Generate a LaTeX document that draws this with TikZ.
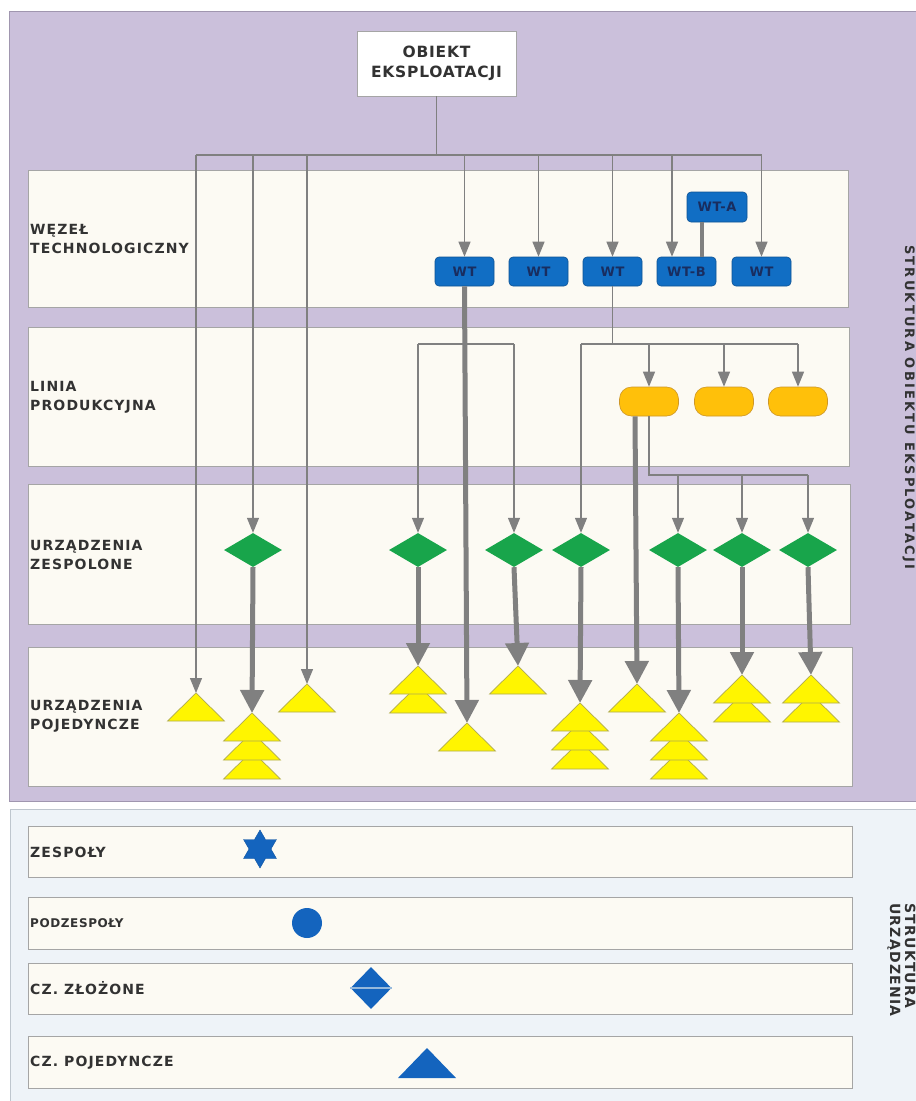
\documentclass[tikz,border=0pt]{standalone}
\usepackage{fontspec}
\setmainfont{DejaVu Sans}
\newfontfamily\lsfont[LetterSpace=8]{DejaVu Sans}
\newfontfamily\lsfontb[LetterSpace=5]{DejaVu Sans}
\newfontfamily\lsfontc[LetterSpace=9]{DejaVu Sans}
\newfontfamily\lsfontd[LetterSpace=17]{DejaVu Sans}
\usetikzlibrary{arrows.meta,shapes.geometric,calc}
\definecolor{purplebg}{RGB}{203,192,219}
\definecolor{purpleline}{RGB}{160,150,175}
\definecolor{cream}{RGB}{252,250,243}
\definecolor{bandline}{RGB}{165,165,165}
\definecolor{legendbg}{RGB}{238,243,248}
\definecolor{legendline}{RGB}{190,198,206}
\definecolor{arrgray}{RGB}{128,128,128}
\definecolor{wtblue}{RGB}{17,110,196}
\definecolor{navy}{RGB}{25,45,95}
\definecolor{dgreen}{RGB}{24,165,75}
\definecolor{orng}{RGB}{255,192,10}
\definecolor{orngline}{RGB}{205,150,40}
\definecolor{ylw}{RGB}{255,245,0}
\definecolor{ylwline}{RGB}{175,170,80}
\definecolor{lblue}{RGB}{20,100,190}
\definecolor{splitline}{RGB}{150,185,220}
\definecolor{labtxt}{RGB}{50,50,50}
\begin{document}
\begin{tikzpicture}[x=1pt,y=-1pt,
  band/.style={draw=bandline,fill=cream,line width=0.9pt},
  lab/.style={anchor=west,align=left,inner sep=0pt,text=labtxt,font=\lsfont\bfseries\fontsize{14}{19}\selectfont},
  thinline/.style={draw=arrgray,line width=1.2pt},
  thinarrow/.style={thinline,-{Triangle[width=12pt,length=15pt]}},
  thickline/.style={draw=arrgray,line width=4pt},
  thickarrow/.style={draw=arrgray,line width=5pt,-{Triangle[width=23pt,length=23pt]}},
  wtbox/.style={rectangle,rounded corners=4pt,fill=wtblue,draw=wtblue!75!black,line width=0.6pt,minimum width=59pt,minimum height=29pt,inner sep=0pt,text=navy,font=\lsfontb\bfseries\fontsize{13}{15}\selectfont},
  dia/.style={diamond,fill=dgreen,minimum width=58pt,minimum height=34pt,inner sep=0pt},
  oval/.style={rectangle,rounded corners=12pt,fill=orng,draw=orngline,line width=0.6pt,minimum width=59pt,minimum height=29pt,inner sep=0pt},
  tri/.style={fill=ylw,draw=ylwline,line width=0.7pt},
  pics/ytri/.style={code={\draw[tri] (0,0) -- (28.5,28) -- (-28.5,28) -- cycle;}},
  sidetxt/.style={rotate=-90,anchor=base west,inner sep=0pt,text=labtxt},
]
\useasboundingbox (0,0) rectangle (916,1101);
\fill[white] (0,0) rectangle (916,1101);
% backgrounds
\draw[purpleline,fill=purplebg,line width=0.9pt] (9,11) rectangle (930,801);
\draw[legendline,fill=legendbg,line width=0.9pt] (10,809) rectangle (930,1115);
% bands
\draw[band] (28,170) rectangle (848,307);
\draw[band] (28,327) rectangle (849,466);
\draw[band] (28,484) rectangle (850,624);
\draw[band] (28,647) rectangle (852,786);
\draw[band] (28,826) rectangle (852,877);
\draw[band] (28,897) rectangle (852,949);
\draw[band] (28,963) rectangle (852,1014);
\draw[band] (28,1036) rectangle (852,1088);
% band labels
\node[lab] (lwt) at (30,238.5) {WĘZEŁ\\TECHNOLOGICZNY};
\node[lab] (llp) at (30,397) {LINIA\\PRODUKCYJNA};
\node[lab] (luz) at (30,554.5) {URZĄDZENIA\\ZESPOLONE};
\node[lab] (lup) at (30,716.5) {URZĄDZENIA\\POJEDYNCZE};
\node[lab] (lzesp) at (30,852) {ZESPOŁY};
\node[lab,font=\lsfontb\bfseries\fontsize{12}{14}\selectfont] (lpodz) at (30,923) {PODZESPOŁY};
\node[lab] (lzloz) at (30,988) {CZ. ZŁOŻONE};
\node[lab] (lpoj) at (30,1063) {CZ. POJEDYNCZE};
% side texts
\node[sidetxt,font=\lsfontd\bfseries\fontsize{13}{15}\selectfont] (side1) at (905,245) {STRUKTURA OBIEKTU EKSPLOATACJI};
\node[sidetxt,font=\lsfontc\bfseries\fontsize{14}{17}\selectfont] (side2a) at (905,903) {STRUKTURA};
\node[sidetxt,font=\lsfontc\bfseries\fontsize{14}{17}\selectfont] (side2b) at (890,903) {URZĄDZENIA};
% top object
\node[draw=bandline,fill=white,line width=0.9pt,minimum width=159pt,minimum height=65pt,align=center,text=labtxt,font=\lsfontb\bfseries\fontsize{15.5}{20}\selectfont] (obj) at (436.5,63.5) {OBIEKT\\EKSPLOATACJI};
% WT nodes
\node[wtbox] (wt1) at (464.5,271.5) {WT};
\node[wtbox] (wt2) at (538.5,271.5) {WT};
\node[wtbox] (wt3) at (612.5,271.5) {WT};
\node[wtbox] (wtb) at (686.5,271.5) {WT-B};
\node[wtbox] (wt5) at (761.5,271.5) {WT};
\node[wtbox,minimum width=60pt,minimum height=30pt] (wta) at (717,207) {WT-A};
\coordinate (wtbin) at ([xshift=-14.5pt]wtb.north);
% ovals
\node[oval] (o1) at (649,401.5) {};
\node[oval] (o2) at (724,401.5) {};
\node[oval] (o3) at (798,401.5) {};
% diamonds
\node[dia] (d1) at (253,550) {};
\node[dia] (d2) at (418,550) {};
\node[dia] (d3) at (514,550) {};
\node[dia] (d4) at (581,550) {};
\node[dia] (d5) at (678,550) {};
\node[dia] (d6) at (742,550) {};
\node[dia] (d7) at (808,550) {};
% triangle apexes
\coordinate (tA) at (196,693);
\coordinate (tB) at (252,713);
\coordinate (tC) at (307,684);
\coordinate (tD) at (418,666);
\coordinate (tE) at (467,723);
\coordinate (tF) at (518,666);
\coordinate (tG) at (580,703);
\coordinate (tH) at (637,684);
\coordinate (tI) at (679,713);
\coordinate (tJ) at (742,675);
\coordinate (tK) at (811,675);
% triangles (lowest first)
\pic at (196,693) {ytri};
\pic at (252,751) {ytri}; \pic at (252,732) {ytri}; \pic at (252,713) {ytri};
\pic at (307,684) {ytri};
\pic at (418,685) {ytri}; \pic at (418,666) {ytri};
\pic at (467,723) {ytri};
\pic at (518,666) {ytri};
\pic at (580,741) {ytri}; \pic at (580,722) {ytri}; \pic at (580,703) {ytri};
\pic at (637,684) {ytri};
\pic at (679,751) {ytri}; \pic at (679,732) {ytri}; \pic at (679,713) {ytri};
\pic at (742,694) {ytri}; \pic at (742,675) {ytri};
\pic at (811,694) {ytri}; \pic at (811,675) {ytri};
% bus lines
\coordinate (bus) at (0,155);
\coordinate (h2) at (0,344);
\coordinate (h3) at (0,475);
\draw[thinline] (obj.south) -- (obj.south |- bus);
\draw[thinline] (tA |- bus) -- (wt5 |- bus);
\draw[thinarrow] (tA |- bus) -- (tA);
\draw[thinarrow] (d1 |- bus) -- (d1.north);
\draw[thinarrow] (tC |- bus) -- (tC);
\foreach \n in {wt1,wt2,wt3,wt5} {\draw[thinarrow] (\n |- bus) -- (\n.north);}
\draw[thinarrow] (wtbin |- bus) -- (wtbin);
\draw[thickline] ([xshift=-15pt]wta.south) -- ([xshift=15.5pt]wtb.north);
% production line branches
\draw[thinline] (wt3.south) -- (wt3.south |- h2);
\draw[thinline] (d4 |- h2) -- (o3 |- h2);
\draw[thinarrow] (d4 |- h2) -- (d4.north);
\foreach \n in {o1,o2,o3} {\draw[thinarrow] (\n |- h2) -- (\n.north);}
\draw[thinline] (d2 |- h2) -- (d3 |- h2);
\draw[thinarrow] (d2 |- h2) -- (d2.north);
\draw[thinarrow] (d3 |- h2) -- (d3.north);
\draw[thinline] (o1.south) -- (o1.south |- h3) -- (d7 |- h3);
\foreach \n in {d5,d6,d7} {\draw[thinarrow] (\n |- h3) -- (\n.north);}
% thick arrows
\draw[thickarrow] (wt1.south) -- (tE);
\draw[thickarrow] (d1.south) -- (tB);
\draw[thickarrow] (d2.south) -- (tD);
\draw[thickarrow] (d3.south) -- (tF);
\draw[thickarrow] (d4.south) -- (tG);
\draw[thickarrow] ([xshift=-14pt]o1.south) -- (tH);
\draw[thickarrow] (d5.south) -- (tI);
\draw[thickarrow] (d6.south) -- (tJ);
\draw[thickarrow] (d7.south) -- (tK);
% legend symbols
\node[star,star points=6,star point ratio=1.732,minimum size=38pt,inner sep=0pt,fill=lblue,draw=lblue!85!black] (zesp) at (260,849) {};
\node[circle,minimum size=30pt,inner sep=0pt,fill=lblue] (podz) at (307,923) {};
\node[diamond,minimum width=41pt,minimum height=42pt,inner sep=0pt,fill=lblue] (zloz) at (371,988) {};
\draw[splitline,line width=1.8pt] (zloz.west) -- (zloz.east);
\coordinate (pojed) at (427,1048);
\fill[lblue] (pojed) -- ++(29,30) -- ++(-58,0) -- cycle;
\end{tikzpicture}
\end{document}
